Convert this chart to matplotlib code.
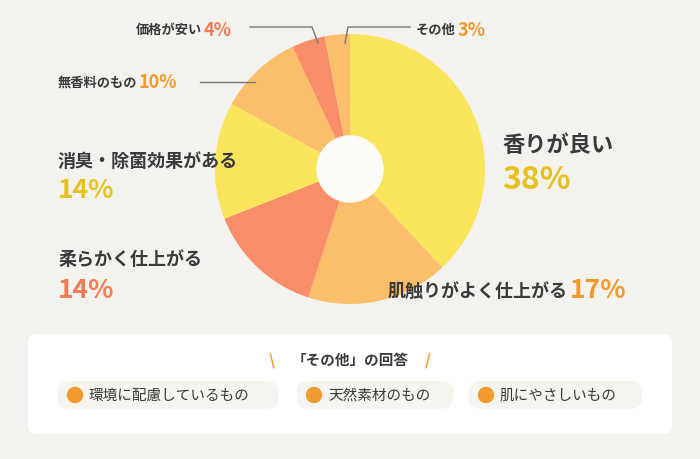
import matplotlib.pyplot as plt
from matplotlib.patches import FancyBboxPatch, Circle, Ellipse

plt.rcParams['font.family'] = 'Noto Sans CJK JP'

labels = ['香りが良い', '肌触りがよく仕上がる', '柔らかく仕上がる', '消臭・除菌効果がある',
          '無香料のもの', '価格が安い', 'その他']
values = [38, 17, 14, 14, 10, 4, 3]
colors = ['#FBE55A', '#FBBE6B', '#FA8E69', '#FBE55A', '#FBBE6B', '#FA8E69', '#FBBE6B']
others = ['環境に配慮しているもの', '天然素材のもの', '肌にやさしいもの']

W, H = 700, 460
fig = plt.figure(figsize=(7, 4.6), dpi=100)
fig.patch.set_facecolor('#F3F2EF')

def px(x, y):
    return x / W, 1 - y / H

cx, cy, r = 350, 170, 135
ax = fig.add_axes([(cx - r) / W, (H - cy - r) / H, 2 * r / W, 2 * r / H])
ax.pie(values, colors=colors, startangle=90, counterclock=False,
       wedgeprops=dict(linewidth=0))
ax.add_patch(Circle((0, 0), 0.245, color='#FDFCF9'))
ax.set_xlim(-1, 1)
ax.set_ylim(-1, 1)
ax.set_aspect('equal')

dark = '#3A3A3A'
def label(x, y, name, pct, pc, size, psize, newline=False, gap=28):
    if newline:
        fig.text(*px(x, y), name, fontsize=size, color=dark, fontweight='bold', va='center')
        fig.text(*px(x, y + gap), pct, fontsize=psize, color=pc, fontweight='bold', va='center')
    else:
        t = fig.text(*px(x, y), name, fontsize=size, color=dark, fontweight='bold', va='center')
        fig.canvas.draw()
        bb = t.get_window_extent()
        fig.text(bb.x1 / W + 0.002, 1 - y / H, pct, fontsize=psize, color=pc,
                 fontweight='bold', va='center')

label(502, 145, labels[0], '38%', '#E8C21C', 16, 23, newline=True, gap=35)
label(388, 291, labels[1], '17%', '#F29A2E', 13, 19)
label(58, 260, labels[2], '14%', '#F47C55', 13, 19, newline=True, gap=30)
label(58, 161, labels[3], '14%', '#E8C21C', 13, 19, newline=True, gap=30)
label(58, 83, labels[4], '10%', '#F29A2E', 9.5, 13)
label(136, 30, labels[5], '4%', '#F47C55', 9.5, 13)
label(416, 30, labels[6], '3%', '#F29A2E', 9.5, 13)

# leader lines
line_kw = dict(color='#777777', lw=1, transform=fig.transFigure)
for pts in [[(200, 83), (255, 83)],
            [(250, 28), (312, 28), (318, 44)],
            [(410, 28), (348, 28), (345, 44)]]:
    xs = [p[0] / W for p in pts]
    ys = [1 - p[1] / H for p in pts]
    fig.add_artist(plt.Line2D(xs, ys, **line_kw))

# others box
box = FancyBboxPatch((28 / W, 1 - 435 / H), 644 / W, 100 / H,
                     boxstyle='round,pad=0,rounding_size=0.015',
                     transform=fig.transFigure, facecolor='white', edgecolor='none')
fig.add_artist(box)
fig.text(*px(350, 360), '「その他」の回答', fontsize=10.5, color=dark, fontweight='bold',
         ha='center', va='center')
fig.text(*px(272, 360), '\\', fontsize=11, color='#F29A2E', fontweight='bold', ha='center', va='center')
fig.text(*px(428, 360), '/', fontsize=11, color='#F29A2E', fontweight='bold', ha='center', va='center')

pills = [(58, 220), (297, 156), (469, 173)]
for (x0, w), txt in zip(pills, others):
    fig.add_artist(FancyBboxPatch((x0 / W, 1 - 410 / H), w / W, 28 / H,
                                  boxstyle='round,pad=0,rounding_size=0.02',
                                  transform=fig.transFigure, facecolor='#F6F4EE',
                                  edgecolor='none'))
    fig.add_artist(Ellipse(px(x0 + 17, 396), 15 / W, 15 / H, transform=fig.transFigure,
                           color='#F29A2E'))
    fig.text(*px(x0 + 31, 396), txt, fontsize=10.5, color=dark, va='center')

fig.savefig('out.png', dpi=100, facecolor=fig.get_facecolor())
